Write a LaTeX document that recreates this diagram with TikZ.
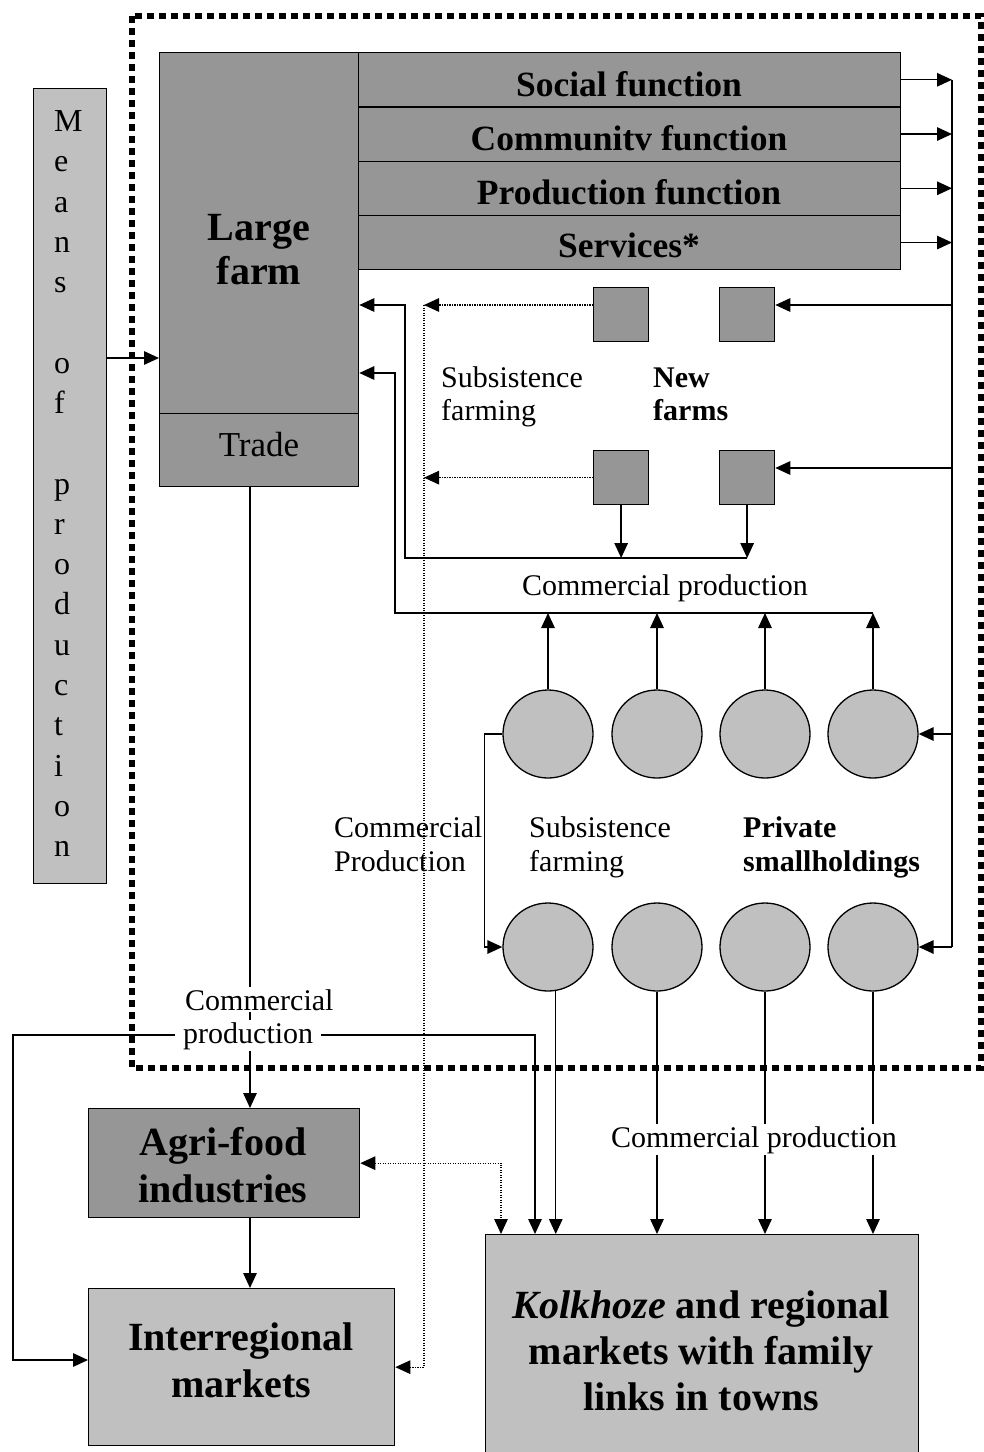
\documentclass[tikz,border=0pt]{standalone}
\usepackage{fontspec}
\setmainfont{Liberation Serif}
\usetikzlibrary{arrows.meta,shapes.geometric}
\definecolor{dgray}{gray}{0.588}
\definecolor{lgray}{gray}{0.753}
\begin{document}
\begin{tikzpicture}[x=1pt,y=-1pt,
  box/.style={draw=black, line width=1.3pt, anchor=north west, inner sep=0pt, align=center},
  dbox/.style={box, fill=dgray},
  lbox/.style={box, fill=lgray},
  blob/.style={ellipse, draw=black, line width=1.3pt, fill=lgray, minimum width=90pt, minimum height=88pt, inner sep=0pt},
  conn/.style={line width=1.4pt},
  arr/.style={conn, -{Triangle[length=15pt,width=13.5pt]}},
  dotconn/.style={line width=1.2pt, dash pattern=on 1.2pt off 1.3pt},
  dotarr/.style={dotconn, -{Triangle[length=15pt,width=13.5pt]}},
  dotboth/.style={dotconn, {Triangle[length=15pt,width=13.5pt]}-{Triangle[length=15pt,width=13.5pt]}},
  frame/.style={line width=6pt, dash pattern=on 7pt off 5pt},
  t30/.style={font=\fontsize{30}{34}\selectfont, inner sep=0pt},
  b30/.style={font=\fontsize{30}{34}\selectfont\bfseries, inner sep=0pt},
  b40/.style={font=\fontsize{40}{47}\selectfont\bfseries, inner sep=0pt},
  func/.style={font=\fontsize{35.5}{40}\selectfont\bfseries, inner sep=0pt, anchor=base},
  mletter/.style={font=\fontsize{32}{36}\selectfont, inner sep=0pt, anchor=base west},
  knock/.style={fill=white, inner sep=2pt},
]
\useasboundingbox (0,0) rectangle (984,1452);
\clip (0,0) rectangle (984,1452);

% outer dotted frame
\draw[frame] (132,16) rectangle (981,1068);

% boxes
\node[lbox, minimum width=73pt, minimum height=795pt] (means) at (33,88) {};
\foreach \ch [count=\i] in {M,e,a,n,s,{},o,f,{},p,r,o,d,u,c,t,i,o,n}
  \node[mletter] (ml\i) at (54,{131.6+40.28*(\i-1)}) {\ch};

\node[dbox, minimum width=199pt, minimum height=361pt] (large) at (159,52) {};
\node[dbox, minimum width=199pt, minimum height=73pt] (trade) at (159,413) {};
\node[dbox, minimum width=542pt, minimum height=54.25pt] (f1) at (358,52) {};
\node[dbox, minimum width=542pt, minimum height=54.25pt] (f2) at (358,106.25) {};
\node[dbox, minimum width=542pt, minimum height=54.25pt] (f3) at (358,160.5) {};
\node[dbox, minimum width=542pt, minimum height=54.25pt] (f4) at (358,214.75) {};

\node[dbox, minimum width=55pt, minimum height=54pt] (sq1) at (593,287) {};
\node[dbox, minimum width=55pt, minimum height=54pt] (sq2) at (719,287) {};
\node[dbox, minimum width=55pt, minimum height=54pt] (sq3) at (593,450) {};
\node[dbox, minimum width=55pt, minimum height=54pt] (sq4) at (719,450) {};

\node[blob] (c1) at (548,734) {};
\node[blob] (c2) at (657,734) {};
\node[blob] (c3) at (765,734) {};
\node[blob] (c4) at (873,734) {};
\node[blob] (c5) at (548,947) {};
\node[blob] (c6) at (657,947) {};
\node[blob] (c7) at (765,947) {};
\node[blob] (c8) at (873,947) {};

\node[dbox, minimum width=271pt, minimum height=109pt] (agri) at (88,1108) {};
\node[lbox, minimum width=306pt, minimum height=157pt] (inter) at (88,1288) {};
\node[lbox, minimum width=433pt, minimum height=240pt] (kolk) at (485,1234) {};

% helper coordinates
\coordinate (rt) at (952,79.5);
\coordinate (ya) at (0,305);
\coordinate (yb) at (0,373);
\coordinate (yc) at (0,558);
\coordinate (yd) at (0,613);
\coordinate (ye) at (0,468);
\coordinate (ym) at (0,358);
\coordinate (yl) at (0,1035);
\coordinate (yi) at (0,1360);
\coordinate (xa) at (405,0);
\coordinate (xb) at (395,0);
\coordinate (xd) at (424,0);
\coordinate (xe) at (501,0);
\coordinate (xk) at (535,0);
\coordinate (xt) at (250,0);
\coordinate (xl) at (13,0);

% means -> large farm
\draw[arr] (means.east |- ym) -- (large.west |- ym);

% functions -> right bus
\foreach \f in {f1,f2,f3,f4} \draw[arr] (\f.east) -- (\f.east -| rt);
\draw[conn] (rt) -- (rt |- c8.east);

% bus -> new farms and smallholdings
\draw[arr] (rt |- ya) -- (sq2.east |- ya);
\draw[arr] (rt |- ye) -- (sq4.east |- ye);
\draw[arr] (rt |- c4.east) -- (c4.east);
\draw[arr] (rt |- c8.east) -- (c8.east);

% subsistence (dotted)
\draw[dotarr] (sq1.west |- ya) -- (xd |- ya);
\draw[dotarr] (sq3.west) -- (sq3.west -| xd);
\draw[dotarr] (xd |- ya) -- (xd |- inter.east) -- (inter.east);

% new farms commercial production
\draw[arr] (sq3.south) -- (sq3.south |- yc);
\draw[arr] (sq4.south) -- (sq4.south |- yc);
\draw[arr] (sq4.south |- yc) -- (xa |- yc) -- (xa |- ya) -- (large.east |- ya);

% smallholdings commercial production
\foreach \c in {c1,c2,c3,c4} \draw[arr] (\c.north) -- (\c.north |- yd);
\draw[arr] (c4.north |- yd) -- (xb |- yd) -- (xb |- yb) -- (large.east |- yb);
\draw[arr] (c1.west) -- ++(-18,0) |- (c5.west);

% smallholdings -> kolkhoze markets
\draw[arr] (c5.-80) -- (c5.-80 |- kolk.north);
\foreach \c in {c6,c7,c8} \draw[arr] (\c.south) -- (\c.south |- kolk.north);

% trade -> agri-food -> interregional
\draw[arr] (trade.south -| xt) -- (agri.north -| xt);
\draw[arr] (agri.south -| xt) -- (inter.north -| xt);
\draw[arr] (xt |- yl) -- (xl |- yl) -- (xl |- yi) -- (inter.west |- yi);
\draw[arr] (xt |- yl) -| (kolk.north -| xk);

% agri-food <-> kolkhoze (dotted)
\draw[dotboth] (agri.east) -- (agri.east -| xe) -- (kolk.north -| xe);

% labels
\node[func] (fl1) at (629,96) {Social function};
\node[func] (fl2) at (629,150) {Communitv function};
\node[func] (fl3) at (629,204) {Production function};
\node[func] (fl4) at (629,257) {Services*};
\node[b40, anchor=base] (lf1) at (259,240) {Large};
\node[b40, anchor=base] (lf2) at (259,284) {farm};
\node[inner sep=0pt, anchor=base, font=\fontsize{35}{40}\selectfont] (tr) at (259,456.5) {Trade};

\node[t30, anchor=base west] (sf1) at (441,387) {Subsistence};
\node[t30, anchor=base west] (sf2) at (441,420) {farming};
\node[b30, anchor=base west] (nf1) at (653,387) {New};
\node[b30, anchor=base west] (nf2) at (653,420) {farms};
\node[t30, anchor=base] (cp1) at (665,595) {Commercial production};

\node[t30, anchor=base west] (cp2a) at (334,837) {Commercial};
\node[t30, anchor=base west] (cp2b) at (334,871) {Production};
\node[t30, anchor=base west] (sf3) at (529,837) {Subsistence};
\node[t30, anchor=base west] (sf4) at (529,871) {farming};
\node[b30, anchor=base west] (ps1) at (743,837) {Private};
\node[b30, anchor=base west] (ps2) at (743,871) {smallholdings};

\node[t30, knock, anchor=base west] (cpl1) at (183,1010) {Commercial};
\node[t30, knock, inner xsep=8pt, anchor=base west] (cpl2) at (175,1043) {production};
\node[t30, knock, anchor=base] (cpr) at (754,1147) {Commercial production};

\node[b40, anchor=base] (ag1) at (223,1155) {Agri-food};
\node[b40, anchor=base] (ag2) at (223,1202) {industries};
\node[b40, anchor=base] (ir1) at (241,1350) {Interregional};
\node[b40, anchor=base] (ir2) at (241,1397) {markets};
\node[b40, anchor=base] (kk1) at (701,1318) {\itshape Kolkhoze\upshape{} and regional};
\node[b40, anchor=base] (kk2) at (701,1364) {markets with family};
\node[b40, anchor=base] (kk3) at (701,1410) {links in towns};
\end{tikzpicture}
\end{document}
